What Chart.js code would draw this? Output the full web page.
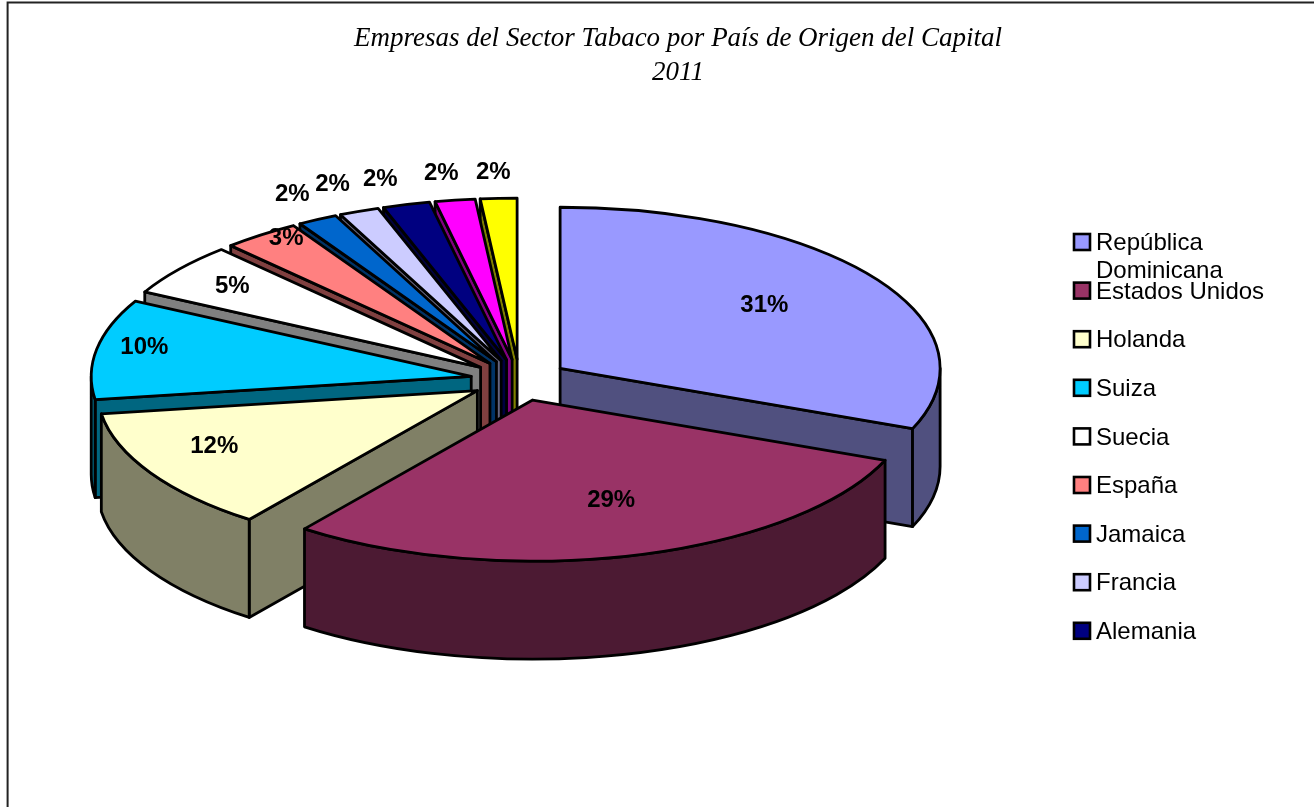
<!DOCTYPE html>
<html>
<head>
<meta charset="utf-8">
<title>Empresas del Sector Tabaco</title>
<script src="https://cdn.jsdelivr.net/npm/chart.js@4"></script>
<style>
    html, body { margin: 0; padding: 0; background: #fff; overflow: hidden; }
    canvas { display: block; }
</style>
</head>
<body>
<canvas id="chart" width="1314" height="807"></canvas>
<script>
// the last two countries have no legend entry in the original, it runs out of room
const categories = [
    ['República', 'Dominicana'], 'Estados Unidos', 'Holanda', 'Suiza', 'Suecia',
    'España', 'Jamaica', 'Francia', 'Alemania', '', ''
];
const shares = [31.1, 29.15, 12.45, 10.05, 5.3, 3.3, 1.7, 1.7, 2, 1.7, 1.55];
const topColors = ['#9999FF', '#993366', '#FFFFCC', '#00CCFF', '#FFFFFF', '#FF8080', '#0066CC', '#CCCCFF', '#000080', '#FF00FF', '#FFFF00'];
const sideColors = ['#50507F', '#4C1A33', '#808066', '#006680', '#808080', '#804040', '#003366', '#666680', '#000040', '#800080', '#808000'];
const titleLines = ['Empresas del Sector Tabaco por País de Origen del Capital', '2011'];

// fake 3D look: where the pie sits and how much it is squashed
const pieX = 519.5, pieY = 380, squash = 0.424, depth = 98;
const explode = 49, pieRadius = 380;
// excel placed these by hand, so each label gets its own shift from the default spot
const labelShift = [[-32, 5], [2, -16], [-18, -6], [-46, -8], [-22, -8], [-32, -29], [-70, -61], [-62, -64], [-51, -64], [-28, -67], [-10, -66]];

const legendX = 1074, legendY = 242, legendStep = 48.6;

function slicePos(arc) {
    const mid = (arc.startAngle + arc.endAngle) / 2;
    const d = arc.options.offset;
    return { x: pieX + Math.cos(mid) * d, y: pieY + Math.sin(mid) * d * squash, mid: mid };
}

function edgePoint(p, r, angle) {
    return { x: p.x + Math.cos(angle) * r, y: p.y + Math.sin(angle) * r * squash };
}

function drawWall(ctx, p, r, angle, color) {
    const e = edgePoint(p, r, angle);
    ctx.beginPath();
    ctx.moveTo(p.x, p.y);
    ctx.lineTo(e.x, e.y);
    ctx.lineTo(e.x, e.y + depth);
    ctx.lineTo(p.x, p.y + depth);
    ctx.closePath();
    ctx.fillStyle = color;
    ctx.fill();
    ctx.stroke();
}

function drawSlice(ctx, arc, i) {
    const p = slicePos(arc);
    const r = arc.outerRadius;
    const s = arc.startAngle, e = arc.endAngle;

    // only the faces turned to the viewer
    if (Math.cos(s) < 0) drawWall(ctx, p, r, s, sideColors[i]);
    if (Math.cos(e) > 0) drawWall(ctx, p, r, e, sideColors[i]);

    const a0 = Math.max(s, 0), a1 = Math.min(e, Math.PI);
    if (a1 > a0) {
        ctx.beginPath();
        ctx.ellipse(p.x, p.y, r, r * squash, 0, a0, a1);
        ctx.ellipse(p.x, p.y + depth, r, r * squash, 0, a1, a0, true);
        ctx.closePath();
        ctx.fillStyle = sideColors[i];
        ctx.fill();
        ctx.stroke();
    }

    ctx.beginPath();
    ctx.moveTo(p.x, p.y);
    ctx.ellipse(p.x, p.y, r, r * squash, 0, s, e);
    ctx.closePath();
    ctx.fillStyle = topColors[i];
    ctx.fill();
    ctx.stroke();
}

const pie3d = {
    id: 'pie3d',
    beforeDatasetDraw(chart) {
        const ctx = chart.ctx;
        const arcs = chart.getDatasetMeta(0).data;
        const order = arcs.map((a, i) => i).sort((a, b) => {
            return Math.sin((arcs[a].startAngle + arcs[a].endAngle) / 2) - Math.sin((arcs[b].startAngle + arcs[b].endAngle) / 2);
        });
        ctx.save();
        ctx.strokeStyle = '#000';
        ctx.lineWidth = 2.8;
        ctx.lineJoin = 'round';
        order.forEach(i => drawSlice(ctx, arcs[i], i));
        ctx.restore();
        return false;
    },
    afterDatasetsDraw(chart) {
        const ctx = chart.ctx;
        const arcs = chart.getDatasetMeta(0).data;
        const total = shares.reduce((a, b) => a + b, 0);
        ctx.save();
        ctx.fillStyle = '#000';
        ctx.textAlign = 'center';
        ctx.textBaseline = 'middle';
        ctx.font = 'bold 24px "Liberation Sans"';
        arcs.forEach((arc, i) => {
            const p = slicePos(arc);
            const at = edgePoint(p, arc.outerRadius * 0.75, p.mid);
            ctx.fillText(Math.round(shares[i] / total * 100) + '%', at.x + labelShift[i][0], at.y + labelShift[i][1]);
        });

        // legend by hand, the built-in one can't let the wrapped name run into the next row
        ctx.textAlign = 'left';
        ctx.font = '24px "Liberation Sans"';
        ctx.lineWidth = 2.6;
        ctx.strokeStyle = '#000';
        categories.forEach((name, i) => {
            if (!name.length) return;
            const y = legendY + i * legendStep;
            ctx.fillStyle = topColors[i];
            ctx.fillRect(legendX, y - 8, 16, 16);
            ctx.strokeRect(legendX, y - 8, 16, 16);
            ctx.fillStyle = '#000';
            [].concat(name).forEach((line, n) => ctx.fillText(line, legendX + 22, y + 1.5 + n * 28));
        });
        ctx.restore();
    },
    beforeDraw(chart) {
        // frame of the original picture, only top and left fit on the page
        const ctx = chart.ctx;
        ctx.save();
        ctx.fillStyle = '#fff';
        ctx.fillRect(0, 0, chart.width, chart.height);
        ctx.strokeStyle = '#222';
        ctx.lineWidth = 2;
        ctx.beginPath();
        ctx.moveTo(7.6, chart.height);
        ctx.lineTo(7.6, 2.6);
        ctx.lineTo(chart.width, 2.6);
        ctx.stroke();
        ctx.restore();
    }
};

new Chart(document.getElementById('chart'), {
    type: 'pie',
    plugins: [pie3d],
    data: {
        labels: categories,
        datasets: [{
            data: shares,
            backgroundColor: topColors,
            radius: pieRadius,
            offset: explode,
            borderWidth: 0
        }]
    },
    options: {
        responsive: false,
        animation: false,
        layout: { padding: { left: 42 } },
        plugins: {
            legend: { display: false },
            tooltip: { enabled: false },
            title: {
                display: true,
                text: titleLines,
                color: '#000',
                font: { family: '"Liberation Serif"', size: 27, style: 'italic', weight: 'normal', lineHeight: 1.26 },
                padding: { top: 22, bottom: 10 }
            }
        }
    }
});
</script>
</body>
</html>
